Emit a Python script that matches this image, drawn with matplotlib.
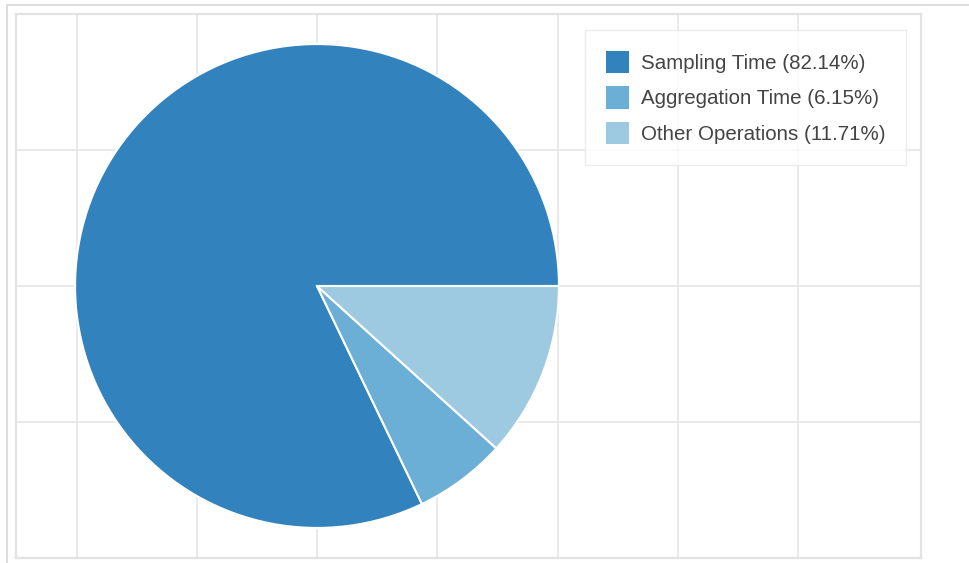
import matplotlib
matplotlib.use("Agg")
import matplotlib.pyplot as plt
from matplotlib.patches import Rectangle

labels = ["Sampling Time", "Aggregation Time", "Other Operations"]
shares = [82.14, 6.15, 11.71]
colors = ["#3182bd", "#6baed6", "#9ecae1"]
x_grid = [-1.0, -0.5, 0.0, 0.5, 1.0, 1.5, 2.0]
y_grid = [-0.5655, 0.0, 0.5655]

plt.rcParams["font.family"] = ["Liberation Sans", "DejaVu Sans"]

W, H = 969, 563
fig = plt.figure(figsize=(W / 100, H / 100), dpi=100)
fig.patch.set_facecolor("white")

# outer card border
fig.add_artist(Rectangle((7 / W, -0.1), 1.2, 1 - 5 / H + 0.1, transform=fig.transFigure,
                         fill=False, edgecolor="#d6d6d6", linewidth=1.2))

ax = fig.add_axes([16 / W, 5 / H, 905 / W, 544 / H])
wedges, _ = ax.pie(shares, colors=colors, startangle=0, counterclock=True,
                   radius=1.006, wedgeprops=dict(edgecolor="white", linewidth=1.5))
ax.set_xlim(-1.2516, 2.5114)
ax.set_ylim(-1.131, 1.131)
ax.set_aspect("auto")
ax.set_axis_on()
ax.set_frame_on(True)
ax.set_xticks(x_grid)
ax.set_yticks(y_grid)
ax.tick_params(length=0, labelbottom=False, labelleft=False)
ax.grid(True, color="#e6e6e6", linewidth=1.2)
ax.set_axisbelow(True)
for s in ax.spines.values():
    s.set_visible(True)
    s.set_color("#e3e3e3")
    s.set_linewidth(1.6)

leg = ax.legend(wedges, [f"{l} ({v:.2f}%)" for l, v in zip(labels, shares)],
                loc="upper left", bbox_to_anchor=(0.6287, 0.9706), borderaxespad=0,
                fontsize=14.8, frameon=True, fancybox=False, edgecolor="#e8e8e8",
                borderpad=1.0, handlelength=1.12, handleheight=1.3,
                handletextpad=0.62, labelspacing=0.64, labelcolor="#444444")
leg.get_frame().set_linewidth(1.0)
for h in leg.legend_handles:
    h.set_edgecolor("none")

fig.savefig("out.png", dpi=100, facecolor="white")
